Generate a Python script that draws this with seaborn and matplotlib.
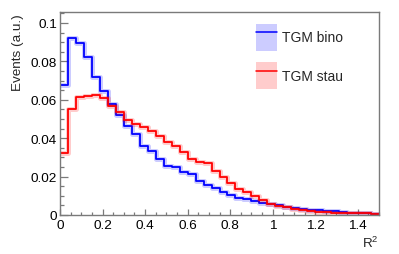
import numpy as np
import pandas as pd
import matplotlib
matplotlib.use("Agg")
import matplotlib.pyplot as plt
import seaborn as sns
from matplotlib.patches import Patch
from matplotlib.lines import Line2D
from matplotlib.ticker import MultipleLocator, FuncFormatter

# ---- data ----
n_bins = 40
x_range = (0.0, 1.5)
bino = [0.0676, 0.0922, 0.0895, 0.0825, 0.0718, 0.0645, 0.0576, 0.0520, 0.0465, 0.0420,
        0.0360, 0.0335, 0.0290, 0.0257, 0.0248, 0.0225, 0.0214, 0.0179, 0.0155, 0.0142,
        0.0118, 0.0105, 0.0090, 0.0082, 0.0073, 0.0062, 0.0055, 0.0051, 0.0044, 0.0037,
        0.0030, 0.0028, 0.0024, 0.0019, 0.0019, 0.0015, 0.0013, 0.0013, 0.0012, 0.0006]
stau = [0.0321, 0.0552, 0.0613, 0.0621, 0.0625, 0.0609, 0.0570, 0.0535, 0.0495, 0.0474,
        0.0457, 0.0439, 0.0413, 0.0378, 0.0361, 0.0326, 0.0290, 0.0274, 0.0272, 0.0230,
        0.0197, 0.0168, 0.0137, 0.0118, 0.0100, 0.0077, 0.0057, 0.0048, 0.0040, 0.0031,
        0.0026, 0.0020, 0.0017, 0.0014, 0.0012, 0.0012, 0.0011, 0.0011, 0.0010, 0.0006]
labels = ["TGM bino", "TGM stau"]
colors = ["#0000ff", "#ff0000"]
x_ticks = [0, 0.2, 0.4, 0.6, 0.8, 1.0, 1.2, 1.4]
y_ticks = [0, 0.02, 0.04, 0.06, 0.08, 0.1]

bin_edges = np.linspace(x_range[0], x_range[1], n_bins + 1)
centers = 0.5 * (bin_edges[:-1] + bin_edges[1:])
df = pd.DataFrame({
    "R2": np.concatenate([centers, centers]),
    "w": np.concatenate([bino, stau]),
    "sample": [labels[0]] * len(centers) + [labels[1]] * len(centers),
})

sns.set_style("white")
plt.rcParams["font.family"] = ["Liberation Sans", "DejaVu Sans"]
plt.rcParams["mathtext.fontset"] = "custom"
plt.rcParams["mathtext.rm"] = "Liberation Sans"
plt.rcParams["mathtext.default"] = "regular"

fig = plt.figure(figsize=(3.99, 2.55), dpi=100)
ax = fig.add_axes([60 / 399, 39 / 255, 319 / 399, 203 / 255])

for lab, col in zip(labels, colors):
    sub = df[df["sample"] == lab]
    # pale error band
    sns.histplot(data=sub, x="R2", weights="w", bins=n_bins, binrange=x_range,
                 element="step", fill=False, color=col, alpha=0.2, linewidth=3.6,
                 ax=ax, legend=False)
    sns.histplot(data=sub, x="R2", weights="w", bins=n_bins, binrange=x_range,
                 element="step", fill=False, color=col, linewidth=1.3,
                 ax=ax, legend=False)

ax.set_xlim(0, 1.5)
ax.set_ylim(0, 0.1057)
ax.set_xlabel("")
ax.set_ylabel("")

ax.set_xticks(x_ticks)
ax.set_yticks(y_ticks)
ax.xaxis.set_minor_locator(MultipleLocator(0.05))
ax.yaxis.set_minor_locator(MultipleLocator(0.005))
fmt = FuncFormatter(lambda v, p: "%g" % round(v, 4))
ax.xaxis.set_major_formatter(fmt)
ax.yaxis.set_major_formatter(fmt)

spine_col = "#7a7a7a"
for s in ax.spines.values():
    s.set_color(spine_col)
    s.set_linewidth(1.0)

ax.tick_params(axis="both", which="both", direction="in", colors=spine_col,
               labelcolor="black", labelsize=9.7, top=False, right=False,
               bottom=True, left=True)
ax.tick_params(axis="y", which="major", length=5.8, width=0.9, pad=2)
ax.tick_params(axis="y", which="minor", length=2.9, width=0.9)
ax.tick_params(axis="x", which="major", length=4.3, width=0.9, pad=3)
ax.tick_params(axis="x", which="minor", length=2.2, width=0.9)

fig.text(18 / 399, 1 - 14 / 255, "Events (a.u.)", rotation=90, ha="center", va="top",
         fontsize=9.7)
fig.text(379 / 399, 1 - 243 / 255, "R$^{2}$", ha="right", va="center", fontsize=9.7)

handles = []
for col in colors:
    handles.append((Patch(facecolor=col, alpha=0.2, edgecolor="none"),
                    Line2D([], [], color=col, linewidth=1.1)))
fig.legend(handles, labels, loc="upper left", bbox_to_anchor=(256 / 399, 1 - 24.5 / 255),
           frameon=False, fontsize=10, handlelength=1.5, handleheight=2.65,
           handletextpad=0.4, labelspacing=0.78, borderpad=0, borderaxespad=0)

fig.savefig("out.png", dpi=100)
